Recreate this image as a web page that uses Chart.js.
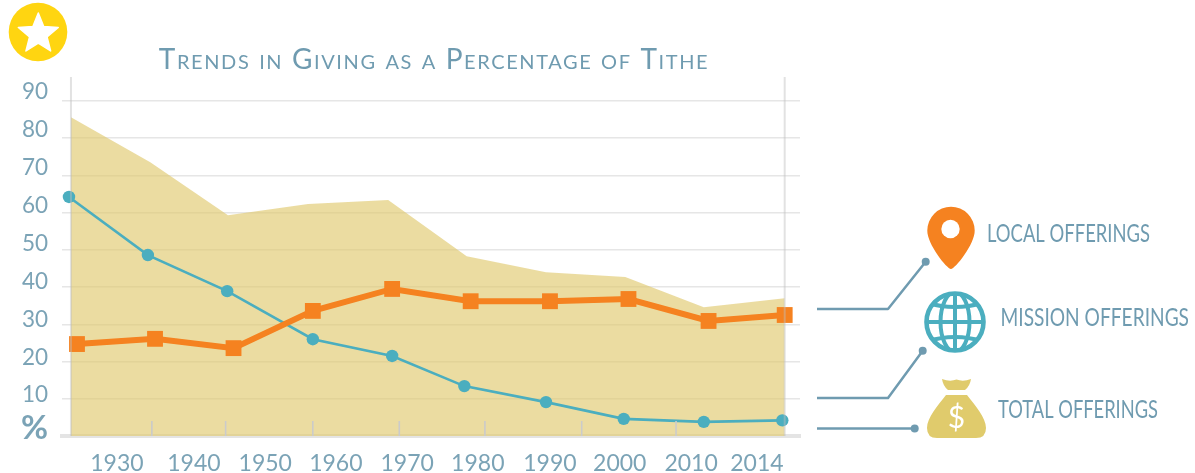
<!DOCTYPE html>
<html><head><meta charset="utf-8">
<style>html,body{margin:0;padding:0;background:#fff}canvas{display:block}</style>
<script src="https://cdn.jsdelivr.net/npm/chart.js@4"></script>
</head><body><canvas id="c" width="1195" height="473"></canvas>
<script>
const titleText = 'Trends in Giving as a Percentage of Tithe';
const decadeLabels = ['1930','1940','1950','1960','1970','1980','1990','2000','2010','2014'];
// horizontal readings are in survey-interval units (0 = first survey)
const decadeLabelAt = [0.58,1.55,2.45,3.34,4.24,5.13,6.04,6.92,7.82,8.65];
const axisMarkAt = [1.02,1.95,3.05,4.14,5.22,6.44,7.63];
const totalAt = [0,1,1.98,2.99,4,4.99,5.99,6.99,7.98,9];
const totalOfferings = [85.6,73.5,59.3,62.3,63.4,48.3,44,42.7,34.6,37];
const missionAt = [-0.025,0.97,1.97,3.05,4.05,4.96,5.99,6.97,7.98,8.97];
const missionOfferings = [64.2,48.6,38.9,26,21.5,13.4,9.1,4.6,3.8,4.2];
const localAt = [0.076,1.06,2.05,3.05,4.05,5.04,6.04,7.03,8.04,9];
const localOfferings = [24.7,26.1,23.6,33.6,39.5,36.2,36.2,36.8,30.9,32.5];
const valueTicks = [10,20,30,40,50,60,70,80,90];
const legendNames = ['LOCAL OFFERINGS','MISSION OFFERINGS','TOTAL OFFERINGS'];

const pair = (xs, ys) => xs.map((x, i) => ({x, y: ys[i]}));
const BLUE = '#6f9bb0', PALE = '#7ba3b6', TEAL = '#4baebf', ORANGE = '#f58220', GOLD = '#e0cb6c';
const FONT = 'Lato, "Open Sans", sans-serif';

function dot(ctx, x, y, r, color) {
  ctx.fillStyle = color; ctx.beginPath(); ctx.arc(x, y, r, 0, Math.PI * 2); ctx.fill();
}
function leader(ctx, pts) {
  ctx.strokeStyle = BLUE; ctx.lineWidth = 2.5; ctx.lineJoin = 'round';
  ctx.beginPath();
  pts.forEach((p, i) => i ? ctx.lineTo(p[0], p[1]) : ctx.moveTo(p[0], p[1]));
  ctx.stroke();
  const e = pts[pts.length - 1];
  dot(ctx, e[0], e[1], 4, BLUE);
}
function label(ctx, text, x, y, w) {
  ctx.fillStyle = BLUE; ctx.font = '400 24.5px ' + FONT;
  ctx.textAlign = 'left'; ctx.textBaseline = 'middle';
  ctx.fillText(text, x, y, w);
}
function star(ctx, cx, cy, R, r) {
  ctx.beginPath();
  for (let i = 0; i < 10; i++) {
    const a = -Math.PI / 2 + i * Math.PI / 5, q = i % 2 ? r : R;
    ctx.lineTo(cx + q * Math.cos(a), cy + q * Math.sin(a));
  }
  ctx.closePath();
}

const frame = {
  id: 'frame',
  afterLayout(chart) {
    const t = chart.titleBlock, ctx = chart.ctx;
    t.left = 0; t.right = 868;
    if (!t._spaced) {
      const d = t.draw;
      t.draw = function () { ctx.letterSpacing = '1.6px'; d.call(t); ctx.letterSpacing = '0px'; };
      t._spaced = true;
    }
  },
  afterDatasetsDraw(chart) {
    const ctx = chart.ctx, x = chart.scales.x, a = chart.chartArea;
    ctx.save();
    ctx.strokeStyle = 'rgba(190,190,190,0.45)'; ctx.lineWidth = 2;
    [totalAt[0], totalAt[totalAt.length - 1]].forEach(v => {
      const p = x.getPixelForValue(v);
      ctx.beginPath(); ctx.moveTo(p, a.top); ctx.lineTo(p, a.bottom); ctx.stroke();
    });
    ctx.strokeStyle = '#cbcbcb'; ctx.lineWidth = 1.6;
    axisMarkAt.forEach(v => {
      const p = x.getPixelForValue(v);
      ctx.beginPath(); ctx.moveTo(p, a.bottom - 15); ctx.lineTo(p, a.bottom); ctx.stroke();
    });
    ctx.restore();
  },
  afterDraw(chart) {
    const ctx = chart.ctx;
    ctx.save();
    // badge
    dot(ctx, 38, 32, 29.3, '#ffd511');
    ctx.fillStyle = '#fff'; ctx.strokeStyle = '#fff'; ctx.lineWidth = 1.5; ctx.lineJoin = 'round';
    star(ctx, 38.3, 34, 21, 9.2); ctx.fill(); ctx.stroke();
    // leaders
    leader(ctx, [[817,309],[888,309],[925.7,261.7]]);
    leader(ctx, [[817,398],[888,398],[922.7,350.7]]);
    leader(ctx, [[817,428.4],[914.7,428.4]]);
    // pin
    ctx.fillStyle = ORANGE;
    ctx.fill(new Path2D('M951 269 C947 269 927 244 927.3 230.5 A23.7 23.7 0 1 1 974.7 230.5 C975 244 955 269 951 269Z'));
    dot(ctx, 950.5, 229, 9.2, '#fff');
    // globe
    const gx = 955, gy = 322;
    ctx.strokeStyle = TEAL; ctx.lineWidth = 4.6;
    ctx.beginPath(); ctx.arc(gx, gy, 28.5, 0, Math.PI * 2); ctx.stroke();
    ctx.lineWidth = 4;
    ctx.save();
    ctx.beginPath(); ctx.arc(gx, gy, 29, 0, Math.PI * 2); ctx.clip();
    ctx.beginPath(); ctx.ellipse(gx, gy, 14.5, 30, 0, 0, Math.PI * 2); ctx.stroke();
    ctx.beginPath(); ctx.moveTo(gx, gy - 30); ctx.lineTo(gx, gy + 30); ctx.stroke();
    ctx.beginPath(); ctx.moveTo(gx - 30, gy); ctx.lineTo(gx + 30, gy); ctx.stroke();
    ctx.beginPath(); ctx.moveTo(gx - 30, gy - 20); ctx.quadraticCurveTo(gx, gy - 10, gx + 30, gy - 20); ctx.stroke();
    ctx.beginPath(); ctx.moveTo(gx - 30, gy + 20); ctx.quadraticCurveTo(gx, gy + 10, gx + 30, gy + 20); ctx.stroke();
    ctx.restore();
    // bag
    ctx.fillStyle = GOLD;
    ctx.fill(new Path2D('M942 379 Q950 382 956.5 379.5 Q963 382 971 379 Q970 386 965 390 L948 390 Q943 386 942 379Z'));
    ctx.fill(new Path2D('M946 395 L967 395 C975 405 986 418 986 428 Q986 438 976 438 L937 438 Q927 438 927 428 C927 418 938 405 946 395Z'));
    ctx.fillStyle = '#fff'; ctx.font = '400 30px ' + FONT;
    ctx.textAlign = 'center'; ctx.textBaseline = 'middle';
    ctx.fillText('$', 956.5, 418);
    // legend
    label(ctx, legendNames[0], 987, 234.5, 163);
    label(ctx, legendNames[1], 1000.5, 318.5, 188.5);
    label(ctx, legendNames[2], 998, 410.5, 160);
    ctx.restore();
  }
};

new Chart(document.getElementById('c'), {
  type: 'line',
  plugins: [frame],
  data: {
    datasets: [
      { label: 'Total offerings', data: pair(totalAt, totalOfferings), fill: 'origin', order: 3,
        borderWidth: 0, borderColor: 'transparent', backgroundColor: 'rgba(224,202,110,0.65)', pointRadius: 0, tension: 0, xAxisID: 'x', yAxisID: 'y' },
      { label: 'Mission offerings', data: pair(missionAt, missionOfferings), order: 2,
        borderColor: TEAL, borderWidth: 2.6, pointStyle: 'circle', pointRadius: 6.2, pointBorderWidth: 0, pointBackgroundColor: TEAL, tension: 0, xAxisID: 'x', yAxisID: 'y' },
      { label: 'Local offerings', data: pair(localAt, localOfferings), order: 1,
        borderColor: ORANGE, borderWidth: 6, pointStyle: 'rect', pointRadius: 11.2, pointBorderWidth: 0, pointBackgroundColor: ORANGE, tension: 0, xAxisID: 'x', yAxisID: 'y' }
    ]
  },
  options: {
    responsive: false, animation: false, events: [],
    layout: { padding: { left: 0, top: 0, bottom: 0, right: 395 } },
    plugins: {
      legend: { display: false }, tooltip: { enabled: false },
      title: { display: true, text: titleText, color: BLUE, align: 'center',
        font: { family: FONT, size: 28, weight: 'small-caps 400', lineHeight: 1.2 },
        padding: { top: 43.5, bottom: 0 } }
    },
    scales: {
      x: {
        type: 'linear', min: -0.113, max: 9.193,
        afterBuildTicks(s) { s.ticks = decadeLabelAt.map(value => ({value})); },
        afterFit(s) { s.height = 37; },
        border: { display: true, width: 4, color: '#e4e4e4' },
        grid: { display: false },
        ticks: { autoSkip: false, maxRotation: 0, minRotation: 0, padding: 6, color: PALE,
          font: { family: FONT, size: 23, weight: '400' },
          callback(v, i) { return decadeLabels[i]; } }
      },
      y: {
        type: 'linear', position: 'left', min: 0, max: 96.4,
        afterBuildTicks(s) { s.ticks = valueTicks.map(value => ({value})); },
        afterFit(s) { s.width = 0; },
        border: { display: false },
        grid: { color: '#e6e6e6', lineWidth: 1.6, drawTicks: false },
        ticks: { display: false }
      },
      yLabels: {
        type: 'linear', position: 'left', min: -0.77, max: 93.96,
        afterBuildTicks(s) { s.ticks = [1.3].concat(valueTicks).map(value => ({value})); },
        afterFit(s) { s.width = 62; },
        border: { display: false },
        grid: { display: false, drawTicks: false, tickLength: 0 },
        ticks: { padding: 14, color: PALE, autoSkip: false,
          font: c => c.index === 0 ? { family: FONT, size: 33, weight: '700' } : { family: FONT, size: 22.5, weight: '400' },
          callback(v, i) { return i === 0 ? '%' : String(v); } }
      }
    }
  }
});
</script></body></html>
